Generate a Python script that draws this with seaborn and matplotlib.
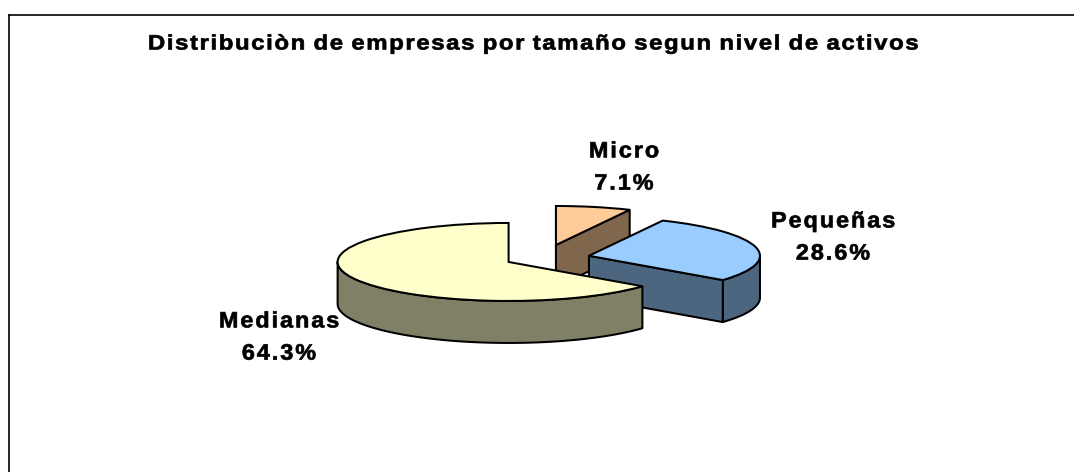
import numpy as np
import matplotlib
matplotlib.use("Agg")
import matplotlib.pyplot as plt
import matplotlib.patheffects as pe
from matplotlib.colors import to_rgb
from matplotlib.lines import Line2D
from matplotlib.path import Path
from matplotlib.transforms import IdentityTransform
import seaborn as sns

categories = ["Micro", "Pequeñas", "Medianas"]
shares = [7.1, 28.6, 64.3]
top_colors = ["#FFCC99", "#99CCFF", "#FFFFCC"]
title = "Distribuciòn de empresas por tamaño segun nivel de activos"

W, H = 1074, 472
CX, CY, RX, RY, DEPTH = 542.8, 258.2, 171, 39, 42
explode = [0.347, 0.277, 0.222]
label_pos = [(624, 168), (833, 238), (279, 338)]
LW = 1.45


class WideText(pe.AbstractPathEffect):
    """Stretches a text sideways and adds letter spacing, which matplotlib has no option for."""

    def __init__(self, stretch, track, embolden=0.5):
        super().__init__()
        self.stretch, self.track, self.embolden = stretch, track, embolden

    def draw_path(self, renderer, gc, tpath, affine, rgbFace=None):
        path = affine.transform_path(tpath)
        v, c = path.vertices.copy(), path.codes
        mid = (v[:, 0].min() + v[:, 0].max()) / 2
        v[:, 0] = mid + (v[:, 0] - mid) * self.stretch
        starts = list(np.where(c == Path.MOVETO)[0]) + [len(v)]
        spans = sorted((v[a:b, 0].min(), v[a:b, 0].max(), a, b)
                       for a, b in zip(starts[:-1], starts[1:]) if b > a)
        shift, end = 0.0, spans[0][1]
        for k, (lo, hi, a, b) in enumerate(spans):
            if k and lo > end - 0.3:
                shift += self.track
            end = max(end, hi)
            v[a:b, 0] += shift
        v[:, 0] -= shift / 2
        gc0 = renderer.new_gc()
        gc0.copy_properties(gc)
        gc0.set_linewidth(self.embolden)
        gc0.set_foreground("black")
        renderer.draw_path(gc0, Path(v, c), IdentityTransform(), rgbFace)
        gc0.restore()


sns.set_theme(style="white")
plt.rcParams["font.family"] = ["Liberation Sans", "DejaVu Sans"]
fig = plt.figure(figsize=(W / 100, H / 100), dpi=100, facecolor="white")
ax = fig.add_axes([0, 0, 1, 1])

wedges, _ = ax.pie(shares, explode=explode, colors=top_colors, startangle=90,
                   counterclock=False, radius=1, frame=True,
                   wedgeprops=dict(edgecolor="black", linewidth=LW))
ax.set_aspect("auto")
ax.set_xlim(-CX / RX, (W - CX) / RX)
ax.set_ylim((CY - H) / RY, CY / RY)
ax.set_xticks([]); ax.set_yticks([])
for s in ax.spines.values():
    s.set_visible(False)
depth = DEPTH / RY


def side(points, color, z):
    pts = np.asarray(points)
    low = pts[::-1] - [0, depth]
    poly = np.vstack([pts, low])
    ax.fill(poly[:, 0], poly[:, 1], facecolor=color, edgecolor="black",
            linewidth=LW, zorder=z, joinstyle="round")


def arc(w, a, b):
    t = np.radians(np.linspace(a, b, 80))
    return np.column_stack([w.center[0] + np.cos(t), w.center[1] + np.sin(t)])


def straight(w, a):
    t = np.radians(a)
    return [w.center, (w.center[0] + np.cos(t), w.center[1] + np.sin(t))]


# painter's order: back slice to front slice
for i, (w, c) in enumerate(zip(wedges, top_colors)):
    dark = tuple(np.array(to_rgb(c)) * 0.5)
    base = 3 * i + 2
    w.set_zorder(base + 2)
    if categories[i] == "Micro":
        side(straight(w, w.theta1), dark, base)
    elif categories[i] == "Pequeñas":
        side(arc(w, w.theta1, max(w.theta1, 0)), dark, base)
        side(straight(w, w.theta1), dark, base + 1)
    else:
        side(arc(w, w.theta2 - 360 if w.theta2 > 180 else w.theta2, -180), dark, base)

for cat, val, (x, y) in zip(categories, shares, label_pos):
    fig.text(x / W, 1 - y / H, f"{cat}\n{val:.1f}%", ha="center", va="center",
             fontsize=16, fontweight="bold", color="black", linespacing=1.7,
             zorder=30, path_effects=[WideText(1.05, 2.0)])
fig.text(534.5 / W, 1 - 44 / H, title, ha="center", va="center",
         fontsize=15, fontweight="bold", color="black",
         path_effects=[WideText(1.15, 1.6)])

# chart frame: only its left and top edges fall inside the picture
fig.add_artist(Line2D([9 / W, 9 / W], [0, 1 - 14.5 / H], color="black", linewidth=1.2,
                      transform=fig.transFigure, solid_capstyle="projecting"))
fig.add_artist(Line2D([9 / W, 1], [1 - 14.5 / H, 1 - 14.5 / H], color="black", linewidth=1.2,
                      transform=fig.transFigure, solid_capstyle="projecting"))
fig.savefig("out.png", dpi=100)
